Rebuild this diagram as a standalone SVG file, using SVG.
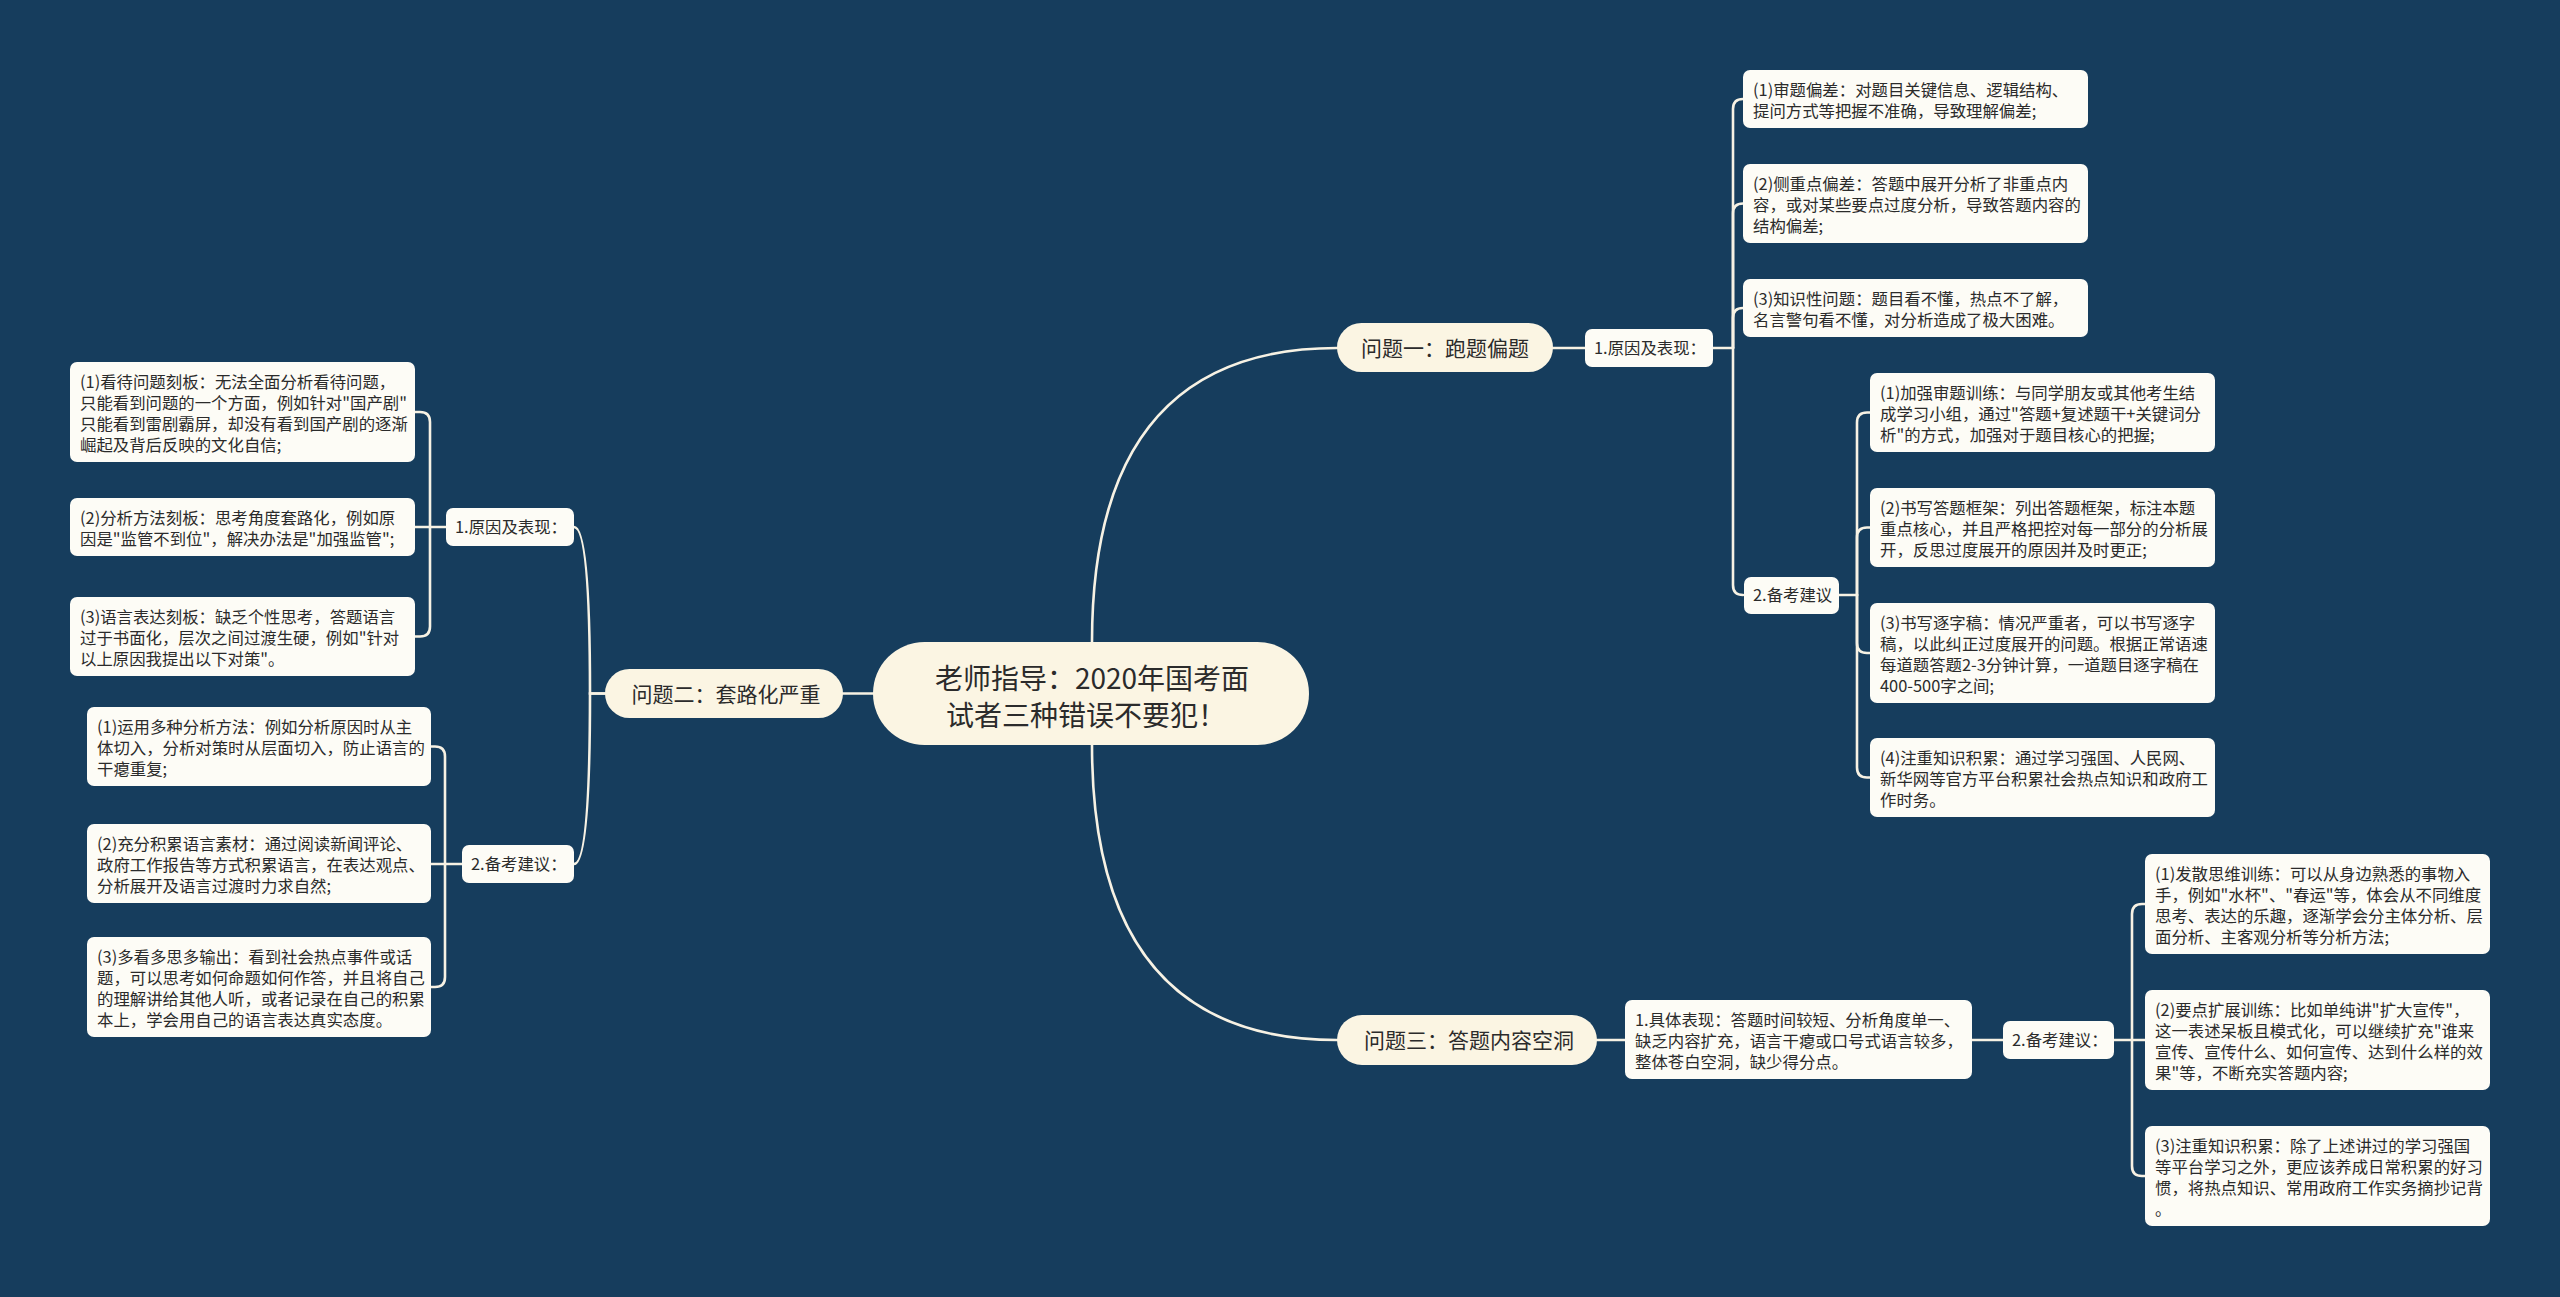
<svg xmlns="http://www.w3.org/2000/svg" width="2560" height="1297" viewBox="0 0 2560 1297">
<style>
.bg{fill:#163d5d}
.ln{fill:none;stroke:#f7f2e4;stroke-width:2.6;stroke-linecap:round}
.main{fill:#fbf5e3}
.sub{fill:#fdfcf6}
text{font-family:"Noto Sans CJK SC","Microsoft YaHei",sans-serif;fill:#2b2b2b}
.t28{font-size:28px}
.t21{font-size:21px}
.t16{font-size:16.4px}
.c{text-anchor:middle}
</style>
<rect class="bg" x="0" y="0" width="2560" height="1297"/>
<g id="connectors">
<path class="ln" d="M1092,642 Q1092,348 1337,348"/>
<path class="ln" d="M1092,745 Q1092,1040 1337,1040"/>
<path class="ln" d="M873,693.5 H843"/>
<path class="ln" d="M605,693.5 H590 Q590,527 574,527"/>
<path class="ln" d="M605,693.5 H590 Q590,864 574,864"/>
<path class="ln" d="M1553,348 H1585"/>
<path class="ln" d="M1713,348 H1733"/>
<path class="ln" d="M1733,348 V109 Q1733,99 1743,99"/>
<path class="ln" d="M1733,348 V213.5 Q1733,203.5 1743,203.5"/>
<path class="ln" d="M1733,348 V318 Q1733,308 1743,308"/>
<path class="ln" d="M1733,348 V585 Q1733,595 1743,595"/>
<path class="ln" d="M1839,595 H1857"/>
<path class="ln" d="M1857,595 V422.5 Q1857,412.5 1867,412.5 H1870"/>
<path class="ln" d="M1857,595 V537.5 Q1857,527.5 1867,527.5 H1870"/>
<path class="ln" d="M1857,595 V643 Q1857,653 1867,653 H1870"/>
<path class="ln" d="M1857,595 V767.5 Q1857,777.5 1867,777.5 H1870"/>
<path class="ln" d="M1597,1040 H1625"/>
<path class="ln" d="M1972,1040 H2003"/>
<path class="ln" d="M2114,1040 H2132"/>
<path class="ln" d="M2132,1040 V914 Q2132,904 2142,904 H2145"/>
<path class="ln" d="M2132,1040 H2145"/>
<path class="ln" d="M2132,1040 V1166 Q2132,1176 2142,1176 H2145"/>
<path class="ln" d="M446,527 H430"/>
<path class="ln" d="M430,527 V422 Q430,412 420,412 H415"/>
<path class="ln" d="M430,527 H415"/>
<path class="ln" d="M430,527 V626.5 Q430,636.5 420,636.5 H415"/>
<path class="ln" d="M462,864 H445"/>
<path class="ln" d="M445,864 V756.5 Q445,746.5 435,746.5 H431"/>
<path class="ln" d="M445,864 H431"/>
<path class="ln" d="M445,864 V977 Q445,987 435,987 H431"/>
</g>
<g id="center">
<rect class="main" x="873" y="642" width="436" height="103" rx="51.5"/>
<text class="t28 c" x="1092" y="688.6">老师指导：2020年国考面</text>
<text class="t28 c" x="1086" y="725.6">试者三种错误不要犯！</text>
</g>
<g id="q1">
<rect class="main" x="1337" y="323" width="216" height="49" rx="24.5"/>
<text class="t21 c" x="1445" y="356">问题一：跑题偏题</text>
</g>
<g id="q2">
<rect class="main" x="605" y="669" width="238" height="49" rx="24.5"/>
<text class="t21 c" x="726" y="701.5">问题二：套路化严重</text>
</g>
<g id="q3">
<rect class="main" x="1337" y="1015" width="260" height="50" rx="25"/>
<text class="t21 c" x="1469" y="1048">问题三：答题内容空洞</text>
</g>
<g id="q1-reason">
<rect class="sub" x="1585" y="329" width="128" height="38" rx="7"/>
<text class="t16" x="1594" y="354">1.原因及表现：</text>
</g>
<g id="q1-r1">
<rect class="sub" x="1743" y="70" width="345" height="58" rx="7"/>
<text class="t16" x="1753" y="95.7">(1)审题偏差：对题目关键信息、逻辑结构、</text>
<text class="t16" x="1753" y="116.7">提问方式等把握不准确，导致理解偏差;</text>
</g>
<g id="q1-r2">
<rect class="sub" x="1743" y="164" width="345" height="79" rx="7"/>
<text class="t16" x="1753" y="189.7">(2)侧重点偏差：答题中展开分析了非重点内</text>
<text class="t16" x="1753" y="210.7">容，或对某些要点过度分析，导致答题内容的</text>
<text class="t16" x="1753" y="231.7">结构偏差;</text>
</g>
<g id="q1-r3">
<rect class="sub" x="1743" y="279" width="345" height="58" rx="7"/>
<text class="t16" x="1753" y="304.7">(3)知识性问题：题目看不懂，热点不了解，</text>
<text class="t16" x="1753" y="325.7">名言警句看不懂，对分析造成了极大困难。</text>
</g>
<g id="q1-advice">
<rect class="sub" x="1744" y="577" width="95" height="37" rx="7"/>
<text class="t16" x="1753" y="601">2.备考建议</text>
</g>
<g id="q1-a1">
<rect class="sub" x="1870" y="373" width="345" height="79" rx="7"/>
<text class="t16" x="1880" y="398.7">(1)加强审题训练：与同学朋友或其他考生结</text>
<text class="t16" x="1880" y="419.7">成学习小组，通过"答题+复述题干+关键词分</text>
<text class="t16" x="1880" y="440.7">析"的方式，加强对于题目核心的把握;</text>
</g>
<g id="q1-a2">
<rect class="sub" x="1870" y="488" width="345" height="79" rx="7"/>
<text class="t16" x="1880" y="513.7">(2)书写答题框架：列出答题框架，标注本题</text>
<text class="t16" x="1880" y="534.7">重点核心，并且严格把控对每一部分的分析展</text>
<text class="t16" x="1880" y="555.7">开，反思过度展开的原因并及时更正;</text>
</g>
<g id="q1-a3">
<rect class="sub" x="1870" y="603" width="345" height="100" rx="7"/>
<text class="t16" x="1880" y="628.7">(3)书写逐字稿：情况严重者，可以书写逐字</text>
<text class="t16" x="1880" y="649.7">稿，以此纠正过度展开的问题。根据正常语速</text>
<text class="t16" x="1880" y="670.7">每道题答题2-3分钟计算，一道题目逐字稿在</text>
<text class="t16" x="1880" y="691.7">400-500字之间;</text>
</g>
<g id="q1-a4">
<rect class="sub" x="1870" y="738" width="345" height="79" rx="7"/>
<text class="t16" x="1880" y="763.7">(4)注重知识积累：通过学习强国、人民网、</text>
<text class="t16" x="1880" y="784.7">新华网等官方平台积累社会热点知识和政府工</text>
<text class="t16" x="1880" y="805.7">作时务。</text>
</g>
<g id="q3-detail">
<rect class="sub" x="1625" y="1000" width="347" height="79" rx="7"/>
<text class="t16" x="1635" y="1025.7">1.具体表现：答题时间较短、分析角度单一、</text>
<text class="t16" x="1635" y="1046.7">缺乏内容扩充，语言干瘪或口号式语言较多，</text>
<text class="t16" x="1635" y="1067.7">整体苍白空洞，缺少得分点。</text>
</g>
<g id="q3-advice">
<rect class="sub" x="2003" y="1021" width="111" height="38" rx="7"/>
<text class="t16" x="2012" y="1046">2.备考建议：</text>
</g>
<g id="q3-a1">
<rect class="sub" x="2145" y="854" width="345" height="100" rx="7"/>
<text class="t16" x="2155" y="879.7">(1)发散思维训练：可以从身边熟悉的事物入</text>
<text class="t16" x="2155" y="900.7">手，例如"水杯"、"春运"等，体会从不同维度</text>
<text class="t16" x="2155" y="921.7">思考、表达的乐趣，逐渐学会分主体分析、层</text>
<text class="t16" x="2155" y="942.7">面分析、主客观分析等分析方法;</text>
</g>
<g id="q3-a2">
<rect class="sub" x="2145" y="990" width="345" height="100" rx="7"/>
<text class="t16" x="2155" y="1015.7">(2)要点扩展训练：比如单纯讲"扩大宣传"，</text>
<text class="t16" x="2155" y="1036.7">这一表述呆板且模式化，可以继续扩充"谁来</text>
<text class="t16" x="2155" y="1057.7">宣传、宣传什么、如何宣传、达到什么样的效</text>
<text class="t16" x="2155" y="1078.7">果"等，不断充实答题内容;</text>
</g>
<g id="q3-a3">
<rect class="sub" x="2145" y="1126" width="345" height="100" rx="7"/>
<text class="t16" x="2155" y="1151.7">(3)注重知识积累：除了上述讲过的学习强国</text>
<text class="t16" x="2155" y="1172.7">等平台学习之外，更应该养成日常积累的好习</text>
<text class="t16" x="2155" y="1193.7">惯，将热点知识、常用政府工作实务摘抄记背</text>
<text class="t16" x="2155" y="1214.7">。</text>
</g>
<g id="q2-reason">
<rect class="sub" x="446" y="508" width="128" height="38" rx="7"/>
<text class="t16" x="455" y="533">1.原因及表现：</text>
</g>
<g id="q2-r1">
<rect class="sub" x="70" y="362" width="345" height="100" rx="7"/>
<text class="t16" x="80" y="387.7">(1)看待问题刻板：无法全面分析看待问题，</text>
<text class="t16" x="80" y="408.7">只能看到问题的一个方面，例如针对"国产剧"</text>
<text class="t16" x="80" y="429.7">只能看到雷剧霸屏，却没有看到国产剧的逐渐</text>
<text class="t16" x="80" y="450.7">崛起及背后反映的文化自信;</text>
</g>
<g id="q2-r2">
<rect class="sub" x="70" y="498" width="345" height="58" rx="7"/>
<text class="t16" x="80" y="523.7">(2)分析方法刻板：思考角度套路化，例如原</text>
<text class="t16" x="80" y="544.7">因是"监管不到位"，解决办法是"加强监管";</text>
</g>
<g id="q2-r3">
<rect class="sub" x="70" y="597" width="345" height="79" rx="7"/>
<text class="t16" x="80" y="622.7">(3)语言表达刻板：缺乏个性思考，答题语言</text>
<text class="t16" x="80" y="643.7">过于书面化，层次之间过渡生硬，例如"针对</text>
<text class="t16" x="80" y="664.7">以上原因我提出以下对策"。</text>
</g>
<g id="q2-advice">
<rect class="sub" x="462" y="845" width="112" height="38" rx="7"/>
<text class="t16" x="471" y="870">2.备考建议：</text>
</g>
<g id="q2-a1">
<rect class="sub" x="87" y="707" width="344" height="79" rx="7"/>
<text class="t16" x="97" y="732.7">(1)运用多种分析方法：例如分析原因时从主</text>
<text class="t16" x="97" y="753.7">体切入，分析对策时从层面切入，防止语言的</text>
<text class="t16" x="97" y="774.7">干瘪重复;</text>
</g>
<g id="q2-a2">
<rect class="sub" x="87" y="824" width="344" height="79" rx="7"/>
<text class="t16" x="97" y="849.7">(2)充分积累语言素材：通过阅读新闻评论、</text>
<text class="t16" x="97" y="870.7">政府工作报告等方式积累语言，在表达观点、</text>
<text class="t16" x="97" y="891.7">分析展开及语言过渡时力求自然;</text>
</g>
<g id="q2-a3">
<rect class="sub" x="87" y="937" width="344" height="100" rx="7"/>
<text class="t16" x="97" y="962.7">(3)多看多思多输出：看到社会热点事件或话</text>
<text class="t16" x="97" y="983.7">题，可以思考如何命题如何作答，并且将自己</text>
<text class="t16" x="97" y="1004.7">的理解讲给其他人听，或者记录在自己的积累</text>
<text class="t16" x="97" y="1025.7">本上，学会用自己的语言表达真实态度。</text>
</g>
</svg>
